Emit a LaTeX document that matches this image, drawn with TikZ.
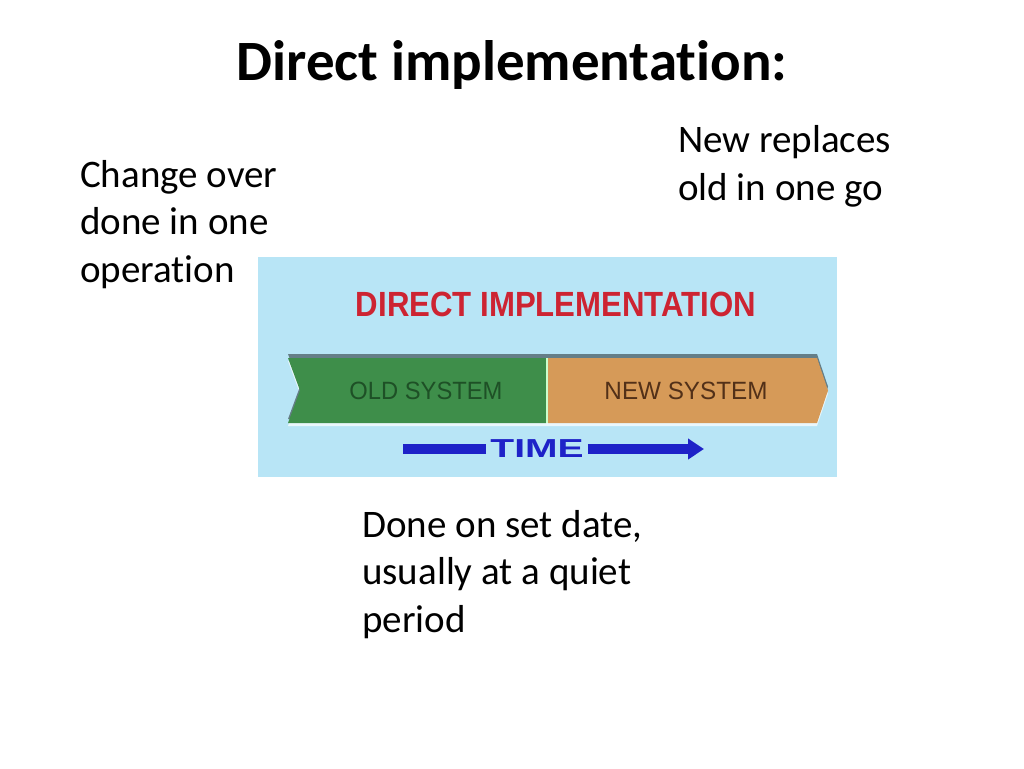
\documentclass[tikz,border=0pt]{standalone}
\usepackage{fontspec}
\usepackage{graphicx}
\setmainfont{Carlito}[Ligatures=NoCommon]
\newfontfamily\arialfont{Liberation Sans}
\usetikzlibrary{arrows.meta}

\definecolor{skyback}{RGB}{184,229,246}
\definecolor{oldgreen}{RGB}{62,142,74}
\definecolor{neworange}{RGB}{214,154,88}
\definecolor{oldtext}{RGB}{30,80,38}
\definecolor{newtext}{RGB}{82,48,24}
\definecolor{bannerred}{RGB}{205,36,50}
\definecolor{timeblue}{RGB}{30,34,200}

\begin{document}
\begin{tikzpicture}[x=1pt,y=-1pt,
    slidetext/.style={anchor=base west,align=left,inner sep=0pt,
      font=\fontsize{39}{47.5}\selectfont},
    systext/.style={inner sep=0pt,font=\arialfont\fontsize{25}{30}\selectfont},
    timebar/.style={timeblue,line width=10pt}]
  \useasboundingbox (0,0) rectangle (1024,768);
  \fill[white] (0,0) rectangle (1024,768);

  \node (title) at (512,80) [anchor=base,inner sep=0pt,
    font=\fontsize{57}{68}\selectfont\bfseries] {Direct implementation:};

  % base of a multi-line node is its last line
  \node (change) at (80,282) [slidetext] {Change over\\done in one\\operation};
  \node (replace) at (678,200) [slidetext] {New replaces\\old in one go};
  \node (setdate) at (362,632) [slidetext] {Done on set date,\\usually at a quiet\\period};

  % picture
  \fill[skyback] (258,257) rectangle (837,477);

  \node (banner) at (556,304.5) [inner sep=0pt,text=bannerred,
    font=\arialfont\bfseries\fontsize{35}{42}\selectfont]
    {\scalebox{0.89}[1]{DIRECT IMPLEMENTATION}};

  \fill[white!70!skyback,yshift=-3pt] (288,358) -- (817,358) -- (828,390.5) -- (817,423) -- (288,423) -- (300,390.5) -- cycle;
  \fill[black!45!skyback,yshift=4pt] (288,358) -- (817,358) -- (828,390.5) -- (817,423) -- (288,423) -- (300,390.5) -- cycle;
  \fill[oldgreen] (288,358) -- (546,358) -- (546,423) -- (288,423) -- (300,390.5) -- cycle;
  \fill[neworange] (548,358) -- (817,358) -- (828,390.5) -- (817,423) -- (548,423) -- cycle;
  \fill[green!20!white] (546,358) rectangle (548,423);

  \node (oldsys) at (426,391) [systext,text=oldtext] {\scalebox{0.95}[1]{OLD SYSTEM}};
  \node (newsys) at (686,391) [systext,text=newtext] {\scalebox{0.97}[1]{NEW SYSTEM}};

  \node (time) at (537,449) [inner sep=0pt,text=timeblue,
    font=\arialfont\bfseries\fontsize{26}{31}\selectfont] {\scalebox{1.5}[1]{TIME}};
  \coordinate (tstart) at (403,449);
  \coordinate (tend) at (704,449);
  \draw[timebar] ([xshift=-4pt]time.west) -- (tstart);
  \draw[timebar,-{Triangle[length=16pt,width=20pt]}] ([xshift=4pt]time.east) -- (tend);
\end{tikzpicture}
\end{document}
